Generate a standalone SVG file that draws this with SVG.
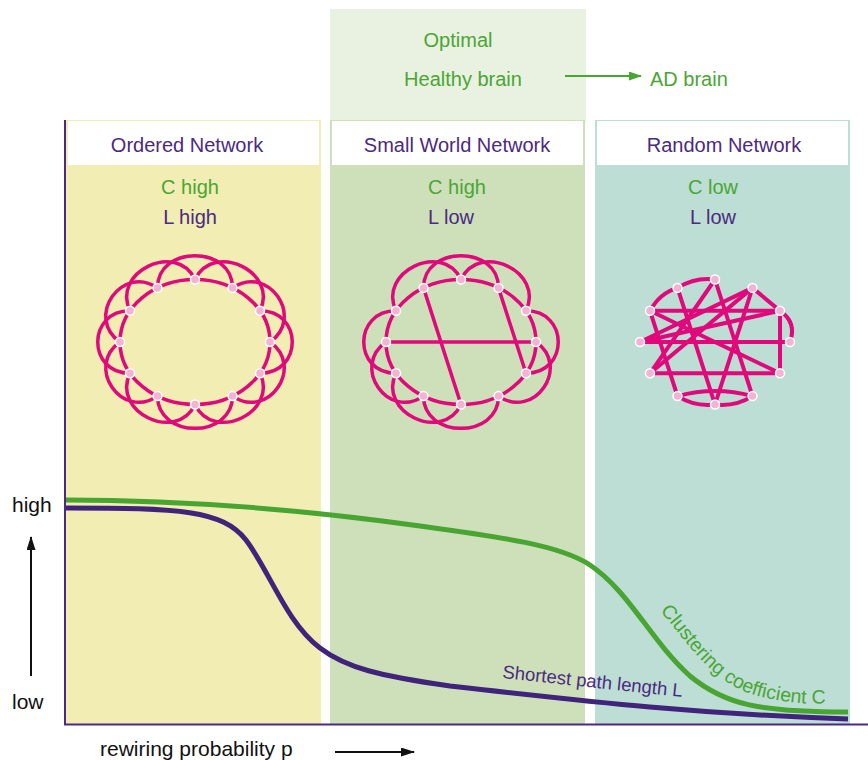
<svg xmlns="http://www.w3.org/2000/svg" width="868" height="760" viewBox="0 0 868 760">
<defs>
<style>
.net{fill:none;stroke:#e0087b;stroke-width:3.5;stroke-linecap:round}
.rnd{fill:none;stroke:#e0087b;stroke-width:4;stroke-linecap:round}
.dot{fill:#f4b3d3;stroke:#ffffff;stroke-width:1.5}
.t{font-family:"Liberation Sans",Arial,sans-serif;font-size:20px}
.mid{text-anchor:middle}
.gr{fill:#4aa634}
.pu{fill:#4b2a80}
.hdr{fill:#ffffff}
</style>
<marker id="ahG" viewBox="0 0 13 9" refX="12" refY="4.5" markerWidth="13" markerHeight="9" markerUnits="userSpaceOnUse" orient="auto"><path d="M0,0 L13,4.5 L0,9 z" fill="#4aa634"/></marker>
<marker id="ahK" viewBox="0 0 14 9" refX="13" refY="4.5" markerWidth="14" markerHeight="9" markerUnits="userSpaceOnUse" orient="auto"><path d="M0,0 L14,4.5 L0,9 z" fill="#111111"/></marker>
<g id="dots">
<circle class="dot" cx="0" cy="-62.5" r="4.5"/>
<circle class="dot" cx="37.5" cy="-54.1" r="4.5"/>
<circle class="dot" cx="65" cy="-31.2" r="4.5"/>
<circle class="dot" cx="75" cy="0" r="4.5"/>
<circle class="dot" cx="65" cy="31.3" r="4.5"/>
<circle class="dot" cx="37.5" cy="54.1" r="4.5"/>
<circle class="dot" cx="0" cy="62.5" r="4.5"/>
<circle class="dot" cx="-37.5" cy="54.1" r="4.5"/>
<circle class="dot" cx="-65" cy="31.3" r="4.5"/>
<circle class="dot" cx="-75" cy="0" r="4.5"/>
<circle class="dot" cx="-65" cy="-31.2" r="4.5"/>
<circle class="dot" cx="-37.5" cy="-54.1" r="4.5"/>
</g>
<path id="cpath" d="M660,611 C688,642 712,686 762,697 S825,702 852,702"/>
</defs>

<rect x="0" y="0" width="868" height="760" fill="#ffffff"/>

<g id="optimal">
<rect x="330" y="9" width="256" height="113" fill="#e9f1e1"/>
<text class="t mid gr" x="458" y="47">Optimal</text>
<text class="t mid gr" x="463" y="86">Healthy brain</text>
<text class="t gr" x="650" y="86">AD brain</text>
</g>

<g id="ordered">
<rect x="66" y="120" width="255" height="604" fill="#f1edb3"/>
<rect x="68" y="121" width="251" height="44" class="hdr"/>
<text class="t mid pu" x="187" y="152">Ordered Network</text>
<text class="t mid gr" x="190" y="194">C high</text>
<text class="t mid pu" x="190" y="224">L high</text>
<g id="ordered-net">
<ellipse class="net" cx="195" cy="342" rx="75" ry="62.5"/>
<path class="net" d="M157.5,287.9 C157.5,244.9 232.5,244.9 232.5,287.9"/>
<path class="net" d="M195,279.5 C213.7,240.7 278.7,272 260,310.8"/>
<path class="net" d="M232.5,287.9 C267.9,263.4 305.4,317.5 270,342"/>
<path class="net" d="M260,310.8 C303,310.8 303,373.3 260,373.3"/>
<path class="net" d="M270,342 C305.4,366.5 267.9,420.6 232.5,396.1"/>
<path class="net" d="M260,373.3 C278.7,412.1 213.7,443.3 195,404.5"/>
<path class="net" d="M232.5,396.1 C232.5,439.1 157.5,439.1 157.5,396.1"/>
<path class="net" d="M195,404.5 C176.3,443.3 111.3,412.1 130,373.3"/>
<path class="net" d="M157.5,396.1 C122.1,420.6 84.6,366.5 120,342"/>
<path class="net" d="M130,373.3 C87,373.3 87,310.8 130,310.8"/>
<path class="net" d="M120,342 C84.6,317.5 122.1,263.4 157.5,287.9"/>
<path class="net" d="M130,310.8 C111.3,272 176.3,240.7 195,279.5"/>
<use href="#dots" transform="translate(195,342)"/>
</g>
</g>

<g id="smallworld">
<rect x="330" y="120" width="255" height="604" fill="#cee0b9"/>
<rect x="332" y="121" width="251" height="44" class="hdr"/>
<text class="t mid pu" x="457" y="152">Small World Network</text>
<text class="t mid gr" x="457" y="194">C high</text>
<text class="t mid pu" x="451" y="224">L low</text>
<g id="smallworld-net">
<ellipse class="net" cx="461" cy="342" rx="75" ry="62.5"/>
<path class="net" d="M396,310.8 C377.3,272 442.3,240.7 461,279.5"/>
<path class="net" d="M423.5,287.9 C423.5,244.9 498.5,244.9 498.5,287.9"/>
<path class="net" d="M461,279.5 C479.7,240.7 544.7,272 526,310.8"/>
<path class="net" d="M526,310.8 C569,310.8 569,373.3 526,373.3"/>
<path class="net" d="M536,342 C571.4,366.5 533.9,420.6 498.5,396.1"/>
<path class="net" d="M498.5,396.1 C498.5,439.1 423.5,439.1 423.5,396.1"/>
<path class="net" d="M461,404.5 C442.3,443.3 377.3,412.1 396,373.3"/>
<path class="net" d="M423.5,396.1 C388.1,420.6 350.6,366.5 386,342"/>
<path class="net" d="M396,373.3 C353,373.3 353,310.8 396,310.8"/>
<path class="net" d="M423.5,287.9 L461,404.5"/>
<path class="net" d="M386,342 L536,342"/>
<path class="net" d="M498.5,287.9 L526,373.3"/>
<use href="#dots" transform="translate(461,342)"/>
</g>
</g>

<g id="random">
<rect x="595" y="120" width="255" height="604" fill="#bcded5"/>
<rect x="597" y="121" width="251" height="44" class="hdr"/>
<text class="t mid pu" x="724" y="152">Random Network</text>
<text class="t mid gr" x="713" y="194">C low</text>
<text class="t mid pu" x="713" y="224">L low</text>
<g id="random-net">
<path class="rnd" d="M677.5,287.9 Q695,277 715,279.5"/>
<path class="rnd" d="M650,310.8 Q660,293 677.5,287.9"/>
<path class="rnd" d="M780,310.8 Q797,322 790,342"/>
<path class="rnd" d="M677.5,396.1 Q695,407 715,404.5"/>
<path class="rnd" d="M715,404.5 Q735,407 752.5,396.1"/>
<path class="rnd" d="M677.5,396.1 Q715,386 752.5,396.1"/>
<path class="rnd" d="M650,310.8 L780,310.8"/>
<path class="rnd" d="M640,342 L790,342"/>
<path class="rnd" d="M650,373.3 L780,373.3"/>
<path class="rnd" d="M640,342 L752.5,287.9"/>
<path class="rnd" d="M650,373.3 L752.5,287.9"/>
<path class="rnd" d="M677.5,287.9 L715,404.5"/>
<path class="rnd" d="M715,279.5 L752.5,396.1"/>
<path class="rnd" d="M752.5,287.9 L715,404.5"/>
<path class="rnd" d="M650,310.8 L677.5,396.1"/>
<path class="rnd" d="M650,310.8 L780,373.3"/>
<path class="rnd" d="M640,342 L780,310.8"/>
<path class="rnd" d="M780,310.8 L780,373.3"/>
<path class="rnd" d="M715,279.5 L650,373.3"/>
<path class="rnd" d="M752.5,287.9 L780,310.8"/>
<use href="#dots" transform="translate(715,342)"/>
</g>
</g>

<g id="connectors">
<path d="M565,76 L641,76" stroke="#4aa634" stroke-width="2" fill="none" marker-end="url(#ahG)"/>
<path d="M65,120 L65,724.5 L868,724.5" stroke="#4b2a80" stroke-width="2" fill="none"/>
<path d="M66,500 C200,500 320,512 420,526 C500,537 560,545 590,565 C630,592 650,640 690,676 C725,705 760,712 848,712" stroke="#48a532" stroke-width="5" fill="none"/>
<path d="M66,508 C180,508 222,510 246,540 C270,572 286,622 320,648 C346,668 380,676 450,686 C600,703 700,714 848,719" stroke="#40237a" stroke-width="5" fill="none"/>
<path d="M31,676 L31,537" stroke="#111111" stroke-width="2" fill="none" marker-end="url(#ahK)"/>
<path d="M335,752 L414,752" stroke="#111111" stroke-width="2" fill="none" marker-end="url(#ahK)"/>
</g>

<g id="labels">
<text class="t" fill="#111111" x="12" y="512" style="font-size:21px">high</text>
<text class="t" fill="#111111" x="12" y="709" style="font-size:21px">low</text>
<text class="t" fill="#111111" x="100" y="756" style="font-size:21px">rewiring probability p</text>
<text class="t pu" transform="translate(502,678) rotate(6)" style="font-size:18.5px">Shortest path length L</text>
<text class="t gr" style="font-size:19.5px"><textPath href="#cpath">Clustering coefficient C</textPath></text>
</g>
</svg>
